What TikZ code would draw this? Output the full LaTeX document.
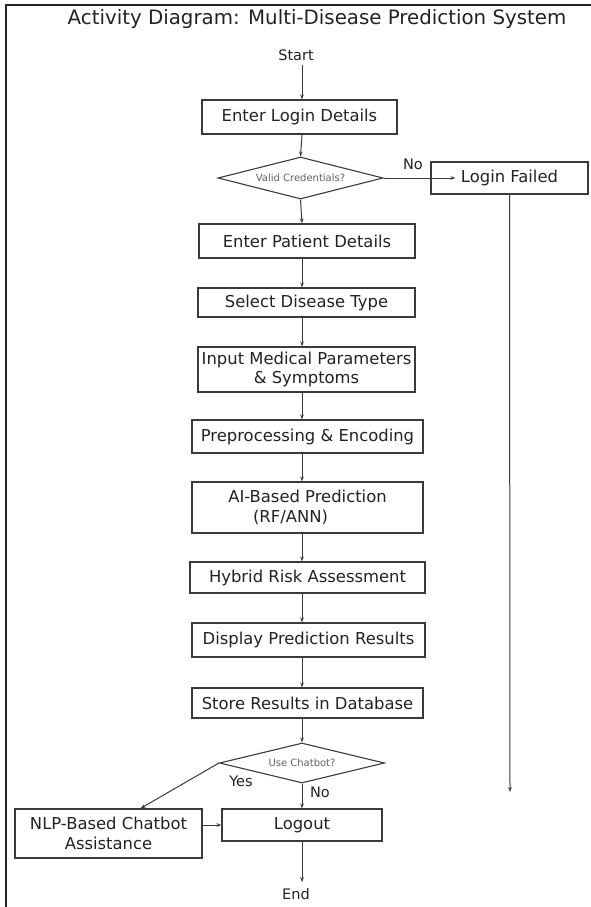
\documentclass[tikz,border=0pt]{standalone}
\usepackage{fontspec}
\setmainfont{DejaVu Sans}
\usetikzlibrary{arrows.meta,shapes.geometric,calc}
\definecolor{ln}{HTML}{3A3A3A}
\definecolor{tx}{HTML}{222222}
\begin{document}
\begin{tikzpicture}[x=1pt,y=-1pt,
  box/.style={draw=ln, line width=1.2pt, rectangle, inner sep=0pt, align=center, text=tx,
    font=\fontsize{16.4}{19.5}\selectfont},
  arr/.style={draw=ln, line width=1pt, -{Stealth[length=5pt,width=3.6pt]}},
  lbl/.style={text=tx, inner sep=0pt, font=\fontsize{14.5}{17}\selectfont},
  dec/.style={draw=ln, line width=1.1pt, diamond, aspect=4, inner sep=0pt, text=ln!80,
    font=\fontsize{10}{12}\selectfont}]
\useasboundingbox (0,0) rectangle (591,907);
\draw[line width=1.5pt, black!85] (6,907) -- (6,5) -- (591,5);

\node[text=tx, inner sep=0pt, font=\fontsize{19.8}{23}\selectfont] (title) at (317,19)
  {Activity Diagram: Multi-Disease Prediction System};
\coordinate (axis) at (302,0);

\node[lbl] (start) at (296,55) {Start};
\node[box, minimum width=195pt, minimum height=34pt] (login) at (299.5,117) {Enter Login Details};
\node[dec, minimum width=165pt, minimum height=42pt] (d1) at (300.5,178) {Valid Credentials?};
\node[box, minimum width=157pt, minimum height=32pt] (lf) at (509.5,178) {Login Failed};
\node[box, minimum width=216pt, minimum height=34pt] (patient) at (307,241) {Enter Patient Details};
\node[box, minimum width=217pt, minimum height=29pt] (select) at (306.5,302.5) {Select Disease Type};
\node[box, minimum width=217pt, minimum height=45pt] (input) at (306.5,369.5) {Input Medical Parameters\\\& Symptoms};
\node[box, minimum width=231pt, minimum height=33pt] (prep) at (307.5,436.5) {Preprocessing \& Encoding};
\node[box, minimum width=231pt, minimum height=51pt] (ai) at (307.5,507.5) {AI-Based Prediction\\(RF/ANN)\hspace*{34pt}};
\node[box, minimum width=235pt, minimum height=31pt] (hybrid) at (307.5,577.5) {Hybrid Risk Assessment};
\node[box, minimum width=233pt, minimum height=34pt] (display) at (308.5,640) {Display Prediction Results};
\node[box, minimum width=231pt, minimum height=30pt] (store) at (307.5,703) {Store Results in Database};
\node[dec, minimum width=165pt, minimum height=40pt] (d2) at (302,763) {Use Chatbot?};
\node[box, minimum width=187pt, minimum height=49pt] (nlp) at (108.5,833.5) {NLP-Based Chatbot\\Assistance};
\node[box, minimum width=160pt, minimum height=32pt] (logout) at (302,825) {Logout};
\node[lbl] (end) at (296,894) {End};

\node[lbl] (no1) at (413,164) {No};
\node[lbl] (yes) at (241,781) {Yes};
\node[lbl] (no2) at (320,792) {No};

\coordinate (lfin) at ($(lf.west)+(25,0)$);
\coordinate (lfend) at (510,792);
\coordinate (nlptop) at ($(nlp.north west)!0.67!(nlp.north east)$);

\draw[arr] (start.south -| axis) ++(0,4) -- (login.north -| axis);
\draw[arr] (login.south -| axis) -- (d1.north);
\draw[arr] (d1.east) -- (lfin);
\draw[arr] (lf.south) -- (lfend);
\draw[arr] (d1.south) -- (patient.north -| axis);
\draw[arr] (patient.south -| axis) -- (select.north -| axis);
\draw[arr] (select.south -| axis) -- (input.north -| axis);
\draw[arr] (input.south -| axis) -- (prep.north -| axis);
\draw[arr] (prep.south -| axis) -- (ai.north -| axis);
\draw[arr] (ai.south -| axis) -- (hybrid.north -| axis);
\draw[arr] (hybrid.south -| axis) -- (display.north -| axis);
\draw[arr] (display.south -| axis) -- (store.north -| axis);
\draw[arr] (store.south -| axis) -- (d2.north);
\draw[arr] (d2.west) -- (nlptop);
\draw[arr] (d2.south) -- (logout.north);
\draw[arr] (nlp.east |- logout.west) -- (logout.west);
\draw[arr] (logout.south) -- ($(end.north -| logout.south)+(0,-6)$);
\end{tikzpicture}
\end{document}
